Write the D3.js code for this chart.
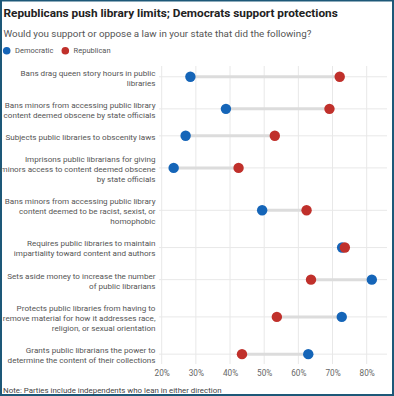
<!DOCTYPE html>
<html>
<head>
<meta charset="utf-8">
<script src="https://cdn.jsdelivr.net/npm/d3@7"></script>
<style>
  body { margin: 0; background: #fff; }
  text { font-family: Roboto, "Open Sans", sans-serif; }
</style>
</head>
<body>
<svg id="chart" width="394" height="396"></svg>
<script>
// question labels, already wrapped the way the original shows them
let questions = [
  ["Bans drag queen story hours in public", "libraries"],
  ["Bans minors from accessing public library", "content deemed obscene by state officials"],
  ["Subjects public libraries to obscenity laws"],
  ["Imprisons public librarians for giving", "minors access to content deemed obscene", "by state officials"],
  ["Bans minors from accessing public library", "content deemed to be racist, sexist, or", "homophobic"],
  ["Requires public libraries to maintain", "impartiality toward content and authors"],
  ["Sets aside money to increase the number", "of public librarians"],
  ["Protects public libraries from having to", "remove material for how it addresses race,", "religion, or sexual orientation"],
  ["Grants public librarians the power to", "determine the content of their collections"]
]

let democratic = [28.4, 38.8, 27, 23.5, 49.4, 72.8, 81.5, 72.7, 62.9]
let republican = [72.1, 69.1, 53.1, 42.5, 62.4, 73.6, 63.7, 53.7, 43.5]

let xTicks = [20, 30, 40, 50, 60, 70, 80]

let partyColors = {
  "Democratic": "#1565b8",
  "Republican": "#c0302b"
}

let rows = questions.map((q, i) => ({
  lines: q,
  dem: democratic[i],
  rep: republican[i]
}))

let svg = d3.select("#chart")

// frame
svg.append("rect")
  .attr("x", 1).attr("y", 0.5)
  .attr("width", 392).attr("height", 394.5)
  .attr("fill", "none")
  .attr("stroke", "#1d5878")
  .attr("stroke-width", 2)

svg.append("text")
  .attr("x", 3.5).attr("y", 17.3)
  .text("Republicans push library limits; Democrats support protections")
  .style("font-size", "11.8px")
  .style("font-weight", "bold")
  .attr("fill", "#222")

svg.append("text")
  .attr("x", 3.5).attr("y", 36.8)
  .text("Would you support or oppose a law in your state that did the following?")
  .style("font-size", "9.8px")
  .attr("fill", "#555")

// legend
let legend = svg.append("g").attr("transform", "translate(0,50.7)")
let legendX = { "Democratic": 6.7, "Republican": 65.3 }
Object.keys(partyColors).forEach(p => {
  legend.append("circle")
    .attr("cx", legendX[p]).attr("cy", 0).attr("r", 3.8)
    .attr("fill", partyColors[p])
  legend.append("text")
    .attr("x", legendX[p] + 8.3).attr("y", 2.6)
    .text(p)
    .style("font-size", "7.5px")
    .attr("fill", "#555")
})

let xScale = d3.scaleLinear()
  .domain([20, 80])
  .range([161.7, 366.7])

// rows get taller with more label lines
let lineH = 10.3, pad = 11.5
let rowTop = 61.7
rows.forEach(r => {
  r.h = r.lines.length * lineH + pad
  r.center = rowTop + r.h / 2
  rowTop += r.h
})

let plot = svg.append("g")

plot.selectAll(".vgrid")
  .data(xTicks)
  .join("line")
  .attr("class", "vgrid")
  .attr("x1", d => xScale(d)).attr("x2", d => xScale(d))
  .attr("y1", 66).attr("y2", 364)
  .attr("stroke", "#e8e8e8")
  .attr("stroke-width", 1)

plot.selectAll(".hgrid")
  .data(rows)
  .join("line")
  .attr("class", "hgrid")
  .attr("x1", 159).attr("x2", 387)
  .attr("y1", d => d.center - 1).attr("y2", d => d.center - 1)
  .attr("stroke", "#e8e8e8")
  .attr("stroke-width", 1)

let xAxis = plot.append("g")
  .attr("transform", "translate(0,364)")
  .call(d3.axisBottom(xScale)
    .tickValues(xTicks)
    .tickFormat(d => d + "%")
    .tickSize(0)
    .tickPadding(6))
xAxis.select(".domain").remove()
xAxis.selectAll("text")
  .style("font-size", "8.2px")
  .style("font-family", "Roboto, sans-serif")
  .attr("fill", "#666")

// question labels
plot.selectAll(".qlabel")
  .data(rows)
  .join("text")
  .attr("class", "qlabel")
  .attr("text-anchor", "end")
  .style("font-size", "8.1px")
  .attr("fill", "#555")
  .each(function(d) {
    let t = d3.select(this)
    let n = d.lines.length
    d.lines.forEach((line, k) => {
      t.append("tspan")
        .attr("x", 155.5)
        .attr("y", d.center + (k - (n - 1) / 2) * 10 + 2.9)
        .text(line)
    })
  })

// connectors
plot.selectAll(".link")
  .data(rows)
  .join("line")
  .attr("class", "link")
  .attr("x1", d => xScale(d.dem)).attr("x2", d => xScale(d.rep))
  .attr("y1", d => d.center - 1).attr("y2", d => d.center - 1)
  .attr("stroke", "#dcdcdc")
  .attr("stroke-width", 3)

plot.selectAll(".dem")
  .data(rows)
  .join("circle")
  .attr("class", "dem")
  .attr("cx", d => xScale(d.dem))
  .attr("cy", d => d.center - 1)
  .attr("r", 5.2)
  .attr("fill", partyColors["Democratic"])

plot.selectAll(".rep")
  .data(rows)
  .join("circle")
  .attr("class", "rep")
  .attr("cx", d => xScale(d.rep))
  .attr("cy", d => d.center - 1)
  .attr("r", 5.2)
  .attr("fill", partyColors["Republican"])

svg.append("text")
  .attr("x", 3).attr("y", 392.5)
  .text("Note: Parties include independents who lean in either direction")
  .style("font-size", "7.9px")
  .attr("fill", "#444")
</script>
</body>
</html>
